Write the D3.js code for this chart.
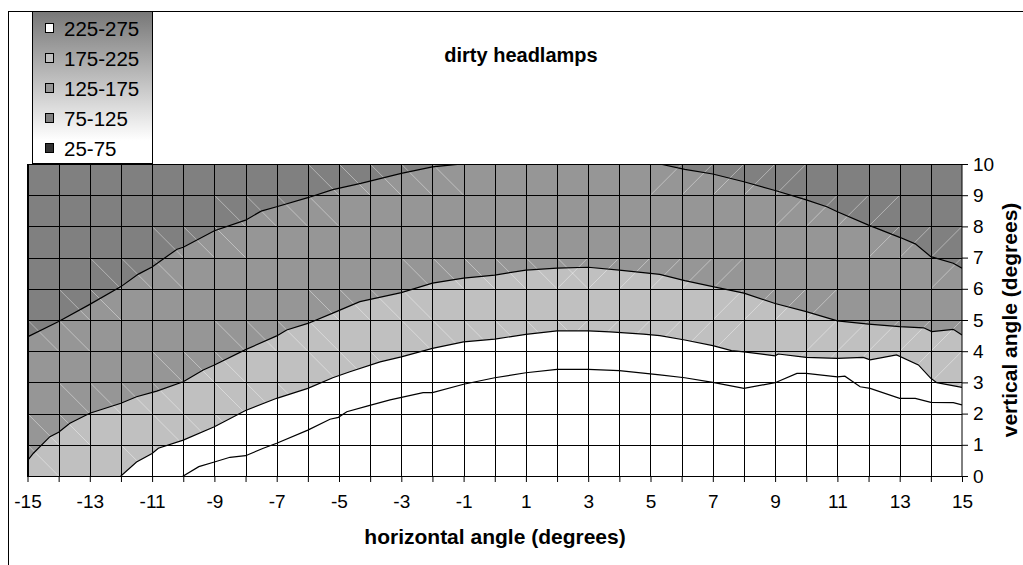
<!DOCTYPE html>
<html>
<head>
<meta charset="utf-8">
<script src="https://cdn.jsdelivr.net/npm/d3@7"></script>
<style>
  body { margin: 0; background: #fff; }
  svg text { font-family: Arial, "Liberation Sans", sans-serif; fill: #000; }
</style>
</head>
<body>
<div id="chart"></div>
<script>
// contour lines, as [horizontal angle, vertical angle]
const line125 = [[-15, 4.46], [-14, 4.95], [-13, 5.5], [-12, 6.07], [-11.44, 6.47], [-11, 6.7], [-10.2, 7.27], [-10, 7.33],
  [-9, 7.86], [-8, 8.2], [-7.5, 8.49], [-7, 8.63], [-6, 8.92], [-5.2, 9.18], [-4.3, 9.38], [-3, 9.7], [-2, 9.91],
  [-1.2, 9.99], [0, 10.15], [1, 10.25], [2, 10.3], [3, 10.3], [4, 10.2], [5.3, 10.0], [6.1, 9.83], [7, 9.68],
  [8, 9.43], [9, 9.15], [10, 8.85], [10.66, 8.63], [11, 8.47], [12, 8.04], [13, 7.65], [13.5, 7.44], [14, 7.03],
  [14.72, 6.82], [15, 6.66]];
const line175 = [[-15, 0.49], [-14.81, 0.73], [-14.28, 1.26], [-14, 1.4], [-13.64, 1.69], [-13, 2.01], [-12, 2.33],
  [-11.5, 2.54], [-10.85, 2.72], [-10, 3.02], [-9.36, 3.4], [-9, 3.56], [-8, 4.05], [-7, 4.49], [-6.68, 4.68],
  [-6, 4.89], [-5.2, 5.22], [-4.33, 5.59], [-3, 5.88], [-2, 6.18], [-1, 6.34], [0, 6.44], [1, 6.6], [2, 6.66],
  [3, 6.69], [4, 6.6], [5.3, 6.46], [6.1, 6.26], [7, 6.07], [8, 5.86], [9, 5.53], [10, 5.27], [11, 4.97],
  [12, 4.87], [13, 4.79], [13.77, 4.75], [14.03, 4.63], [14.72, 4.7], [15, 4.52]];
const line225 = [[-15, -1.6], [-13, -0.6], [-12, 0], [-11.5, 0.45], [-11, 0.72], [-10.8, 0.89], [-10, 1.15], [-9, 1.58],
  [-8, 2.1], [-7, 2.49], [-6, 2.81], [-5.2, 3.15], [-4.65, 3.34], [-3.68, 3.66], [-3, 3.82], [-2, 4.09], [-1, 4.3],
  [0, 4.39], [1, 4.54], [2, 4.65], [3, 4.65], [3.7, 4.62], [4.77, 4.55], [5.3, 4.5], [6.1, 4.36], [7, 4.18],
  [7.6, 4.02], [8, 3.98], [9, 3.85], [9.1, 3.91], [10, 3.8], [11, 3.77], [11.83, 3.8], [12.05, 3.72], [12.9, 3.88],
  [13.6, 3.56], [14, 3.13], [14.19, 2.99], [15, 2.84]];
const line275 = [[-15, -2.5], [-11, -0.5], [-10, 0], [-9.5, 0.3], [-9, 0.45], [-8.5, 0.6], [-8, 0.65], [-7.43, 0.89],
  [-7, 1.05], [-6, 1.47], [-5.29, 1.82], [-5.02, 1.88], [-4.75, 2.06], [-4.1, 2.24], [-3.36, 2.44], [-2.3, 2.67],
  [-2, 2.67], [-1, 2.94], [0, 3.15], [1, 3.31], [2, 3.42], [3, 3.42], [4, 3.38], [5.3, 3.24], [6.1, 3.15], [7, 3.0],
  [8, 2.81], [9, 2.99], [9.7, 3.29], [10, 3.29], [11, 3.18], [11.24, 3.2], [11.73, 2.86], [12.05, 2.81], [13, 2.49],
  [13.5, 2.49], [14, 2.36], [14.72, 2.35], [15, 2.28]];

const bandLabels = ["225-275", "175-225", "125-175", "75-125", "25-75"];
const bandColors = ["#ffffff", "#c0c0c0", "#969696", "#808080", "#333333"];
const xTickValues = [-15, -14, -13, -12, -11, -10, -9, -8, -7, -6, -5, -4, -3, -2, -1, 0, 1, 2, 3, 4, 5, 6, 7, 8, 9, 10, 11, 12, 13, 14, 15];
const xLabels = [-15, -13, -11, -9, -7, -5, -3, -1, 1, 3, 5, 7, 9, 11, 13, 15];
const yTickValues = [0, 1, 2, 3, 4, 5, 6, 7, 8, 9, 10];

const width = 1023, height = 565;

const svg = d3.select("#chart").append("svg")
    .attr("width", width)
    .attr("height", height);

const x = d3.scaleLinear().domain([-15, 15]).range([27.5, 962]);
const y = d3.scaleLinear().domain([0, 10]).range([476, 164]);

// outer frame (runs off the picture on the right and bottom)
svg.append("rect")
    .attr("x", 8.5).attr("y", 11.5)
    .attr("width", 1100).attr("height", 1000)
    .attr("fill", "#fff").attr("stroke", "#000");

svg.append("clipPath").attr("id", "plot")
  .append("rect")
    .attr("x", x(-15)).attr("y", y(10))
    .attr("width", x(15) - x(-15)).attr("height", y(0) - y(10));

const plot = svg.append("g").attr("clip-path", "url(#plot)");

// bands: darkest at the back, each lighter band painted below its line
plot.append("rect")
    .attr("x", x(-15)).attr("y", y(10))
    .attr("width", x(15) - x(-15)).attr("height", y(0) - y(10))
    .attr("fill", bandColors[3]);

const area = d3.area()
    .x(d => x(d[0]))
    .y0(y(-3))
    .y1(d => y(d[1]));

const lines = [line125, line175, line225, line275];
const fills = [bandColors[2], bandColors[1], bandColors[0], bandColors[0]];

plot.selectAll("path.band")
  .data(lines)
  .join("path")
    .attr("class", "band")
    .attr("d", area)
    .attr("fill", (d, i) => fills[i]);

// faint triangle seams in the cells a contour passes through
function vAt(line, h) {
  for (let k = 1; k < line.length; k++) {
    const a = line[k - 1], b = line[k];
    if (h <= b[0]) return a[1] + (b[1] - a[1]) * (h - a[0]) / (b[0] - a[0]);
  }
  return line[line.length - 1][1];
}
const seams = [];
for (let i = -15; i < 15; i++) {
  for (let j = 0; j < 10; j++) {
    const hit = lines.some(line => {
      const vs = [vAt(line, i), vAt(line, i + 1)].concat(line.filter(p => p[0] > i && p[0] < i + 1).map(p => p[1]));
      return d3.min(vs) < j + 1 && d3.max(vs) > j;
    });
    if (!hit) continue;
    if (i <= 2) seams.push([i, j + 1, i + 1, j]);
    if (i >= 2) seams.push([i, j, i + 1, j + 1]);
  }
}
plot.selectAll("line.seam")
  .data(seams)
  .join("line")
    .attr("class", "seam")
    .attr("x1", d => x(d[0])).attr("y1", d => y(d[1]))
    .attr("x2", d => x(d[2])).attr("y2", d => y(d[3]))
    .attr("stroke", "#fff")
    .attr("stroke-opacity", 0.5)
    .attr("stroke-width", 0.8);

// grid, one path for both directions
const gridPath = d3.path();
xTickValues.forEach(v => {
  const px = Math.round(x(v)) + 0.5;
  gridPath.moveTo(px, y(10));
  gridPath.lineTo(px, y(0));
});
yTickValues.forEach(v => {
  const py = Math.round(y(v)) + 0.5;
  gridPath.moveTo(x(-15), py);
  gridPath.lineTo(x(15), py);
});
plot.append("path")
    .attr("d", gridPath.toString())
    .attr("fill", "none")
    .attr("stroke", "#000");

// contour lines
plot.selectAll("path.contour")
  .data(lines)
  .join("path")
    .attr("class", "contour")
    .attr("d", d3.line().x(d => x(d[0])).y(d => y(d[1])))
    .attr("fill", "none")
    .attr("stroke", "#000")
    .attr("stroke-width", 1.2);

svg.append("rect")
    .attr("x", x(-15)).attr("y", y(10) + 0.5)
    .attr("width", x(15) - x(-15)).attr("height", y(0) - y(10))
    .attr("fill", "none").attr("stroke", "#000");

// axes
const xAxis = svg.append("g")
    .attr("transform", `translate(0,${y(0)})`)
    .call(d3.axisBottom(x).tickValues(xTickValues).tickSize(6).tickPadding(13)
      .tickFormat(d => xLabels.includes(d) ? String(d) : ""));
const yAxis = svg.append("g")
    .attr("transform", `translate(${x(15)},0)`)
    .call(d3.axisRight(y).tickValues(yTickValues).tickSize(6).tickPadding(5)
      .tickFormat(d => String(d)));
[xAxis, yAxis].forEach(g => {
  g.select(".domain").remove();
  g.selectAll(".tick line").attr("stroke", "#000");
  g.selectAll("text").attr("font-size", 19).attr("font-family", null).attr("fill", "#000");
});

svg.append("text")
    .attr("x", 495).attr("y", 544)
    .attr("text-anchor", "middle")
    .attr("font-size", 21).attr("font-weight", "bold")
    .text("horizontal angle (degrees)");

svg.append("text")
    .attr("transform", `translate(1017,${(y(0) + y(10)) / 2}) rotate(-90)`)
    .attr("text-anchor", "middle")
    .attr("font-size", 21).attr("font-weight", "bold")
    .text("vertical angle (degrees)");

svg.append("text")
    .attr("x", 521).attr("y", 62)
    .attr("text-anchor", "middle")
    .attr("font-size", 20).attr("font-weight", "bold")
    .text("dirty headlamps");

// legend
const grad = svg.append("defs").append("linearGradient")
    .attr("id", "legendFill").attr("x1", 0).attr("y1", 0).attr("x2", 0).attr("y2", 1);
grad.append("stop").attr("offset", "0%").attr("stop-color", "#777777");
grad.append("stop").attr("offset", "85%").attr("stop-color", "#ffffff");

const legend = svg.append("g");
legend.append("rect")
    .attr("x", 32.5).attr("y", 11.5)
    .attr("width", 120).attr("height", 152)
    .attr("fill", "url(#legendFill)").attr("stroke", "#000");

const item = legend.selectAll("g.item")
  .data(bandLabels)
  .join("g")
    .attr("class", "item")
    .attr("transform", (d, i) => `translate(0,${28 + i * 30})`);
item.append("rect")
    .attr("x", 45.5).attr("y", -4.5)
    .attr("width", 8).attr("height", 9)
    .attr("fill", (d, i) => bandColors[i])
    .attr("stroke", "#000");
item.append("text")
    .attr("x", 64).attr("y", 7.5)
    .attr("font-size", 20.5)
    .text(d => d);
</script>
</body>
</html>
